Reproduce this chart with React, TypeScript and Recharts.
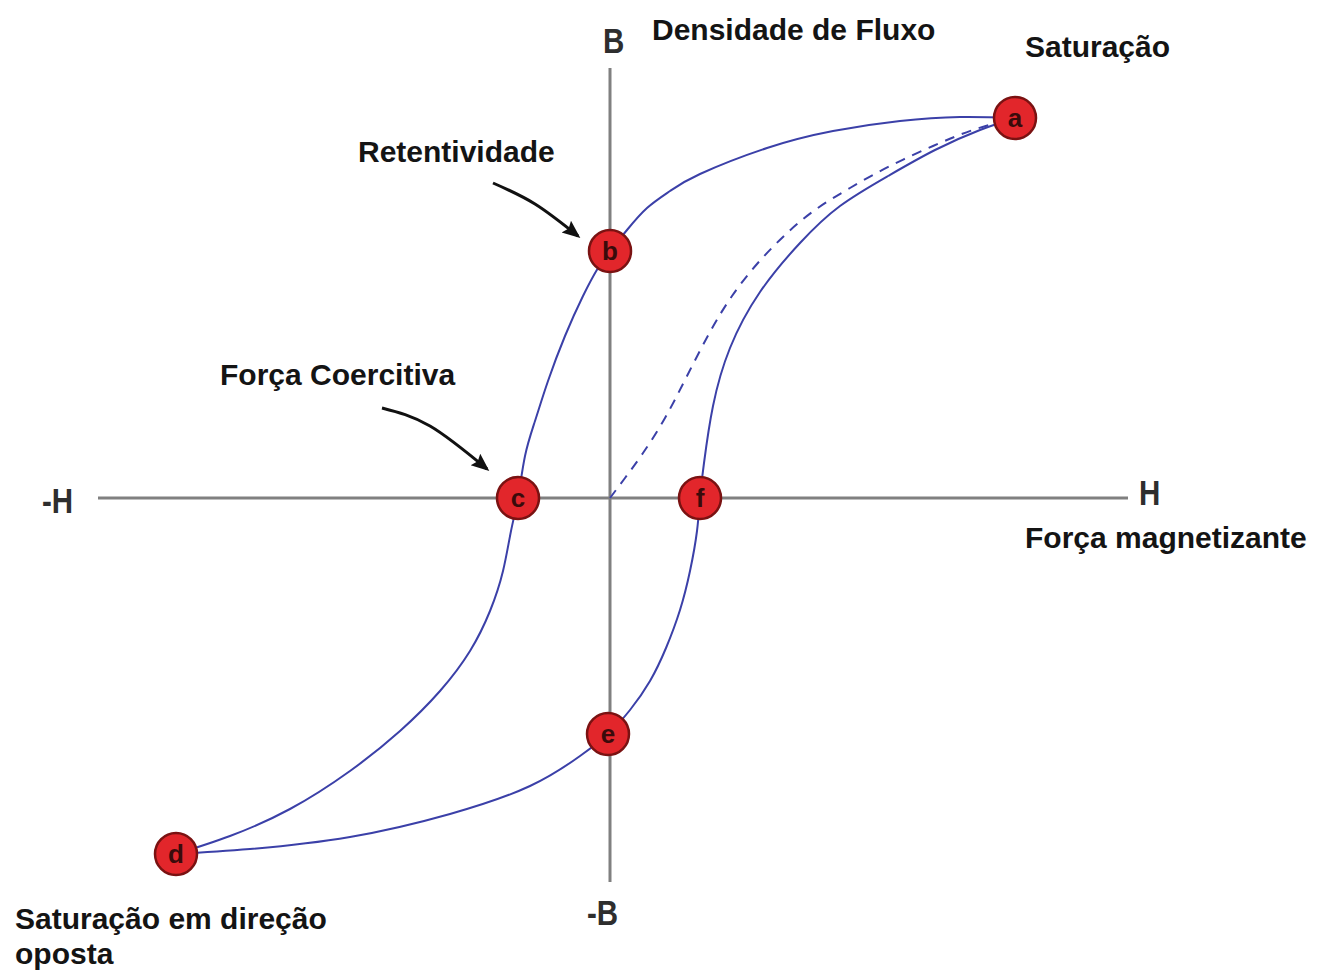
import React from 'react';
import { ComposedChart, Line, Scatter, XAxis, YAxis, ReferenceLine } from 'recharts';

// Hysteresis loop branches (H, B)
const upperBranch = [
  { h: -4.34, b: -3.56 }, { h: -3.8, b: -3.38 }, { h: -3.2, b: -3.11 }, { h: -2.6, b: -2.73 },
  { h: -2.1, b: -2.33 }, { h: -1.7, b: -1.93 }, { h: -1.4, b: -1.53 }, { h: -1.2, b: -1.13 },
  { h: -1.07, b: -0.73 }, { h: -0.99, b: -0.33 }, { h: -0.92, b: 0 }, { h: -0.85, b: 0.42 },
  { h: -0.75, b: 0.77 }, { h: -0.62, b: 1.17 }, { h: -0.45, b: 1.62 }, { h: -0.27, b: 2.02 },
  { h: -0.12, b: 2.3 }, { h: 0, b: 2.47 }, { h: 0.17, b: 2.68 }, { h: 0.37, b: 2.9 },
  { h: 0.6, b: 3.07 }, { h: 0.9, b: 3.24 }, { h: 1.57, b: 3.5 }, { h: 2.23, b: 3.67 },
  { h: 2.9, b: 3.77 }, { h: 3.5, b: 3.81 }, { h: 4.05, b: 3.8 },
];

const lowerBranch = [
  { h: -4.34, b: -3.56 }, { h: -3.6, b: -3.51 }, { h: -2.6, b: -3.39 }, { h: -1.6, b: -3.16 },
  { h: -0.8, b: -2.88 }, { h: -0.3, b: -2.58 }, { h: -0.02, b: -2.36 }, { h: 0.2, b: -2.12 },
  { h: 0.4, b: -1.83 }, { h: 0.56, b: -1.5 }, { h: 0.7, b: -1.12 }, { h: 0.8, b: -0.73 },
  { h: 0.87, b: -0.33 }, { h: 0.9, b: 0 }, { h: 0.94, b: 0.35 }, { h: 1.03, b: 0.92 },
  { h: 1.2, b: 1.5 }, { h: 1.5, b: 2.06 }, { h: 1.9, b: 2.55 }, { h: 2.3, b: 2.92 },
  { h: 2.78, b: 3.22 }, { h: 3.25, b: 3.48 }, { h: 3.7, b: 3.68 }, { h: 4.05, b: 3.8 },
];

const initialCurve = [
  { h: 0, b: 0 }, { h: 0.15, b: 0.2 }, { h: 0.33, b: 0.45 }, { h: 0.55, b: 0.8 },
  { h: 0.77, b: 1.22 }, { h: 1.0, b: 1.66 }, { h: 1.22, b: 2.02 }, { h: 1.47, b: 2.34 },
  { h: 1.75, b: 2.63 }, { h: 2.05, b: 2.88 }, { h: 2.4, b: 3.1 }, { h: 2.8, b: 3.32 },
  { h: 3.23, b: 3.52 }, { h: 3.63, b: 3.68 }, { h: 4.05, b: 3.8 },
];

const arrowRetentividade = [
  { h: -1.17, b: 3.15 }, { h: -0.75, b: 2.94 }, { h: -0.32, b: 2.62 },
];
const arrowCoercitiva = [
  { h: -2.28, b: 0.9 }, { h: -1.8, b: 0.72 }, { h: -1.23, b: 0.29 },
];

const keyPoints = [
  { h: 4.05, b: 3.8, tag: 'a' },
  { h: 0, b: 2.47, tag: 'b' },
  { h: -0.92, b: 0, tag: 'c' },
  { h: -4.34, b: -3.56, tag: 'd' },
  { h: -0.02, b: -2.36, tag: 'e' },
  { h: 0.9, b: 0, tag: 'f' },
];

const textLabels = [
  { h: 0.42, b: 4.58, text: 'Densidade de Fluxo', kind: 'main' },
  { h: 4.15, b: 4.41, text: 'Saturação', kind: 'main' },
  { h: -2.52, b: 3.36, text: 'Retentividade', kind: 'main' },
  { h: -3.9, b: 1.13, text: 'Força Coercitiva', kind: 'main' },
  { h: 4.15, b: -0.5, text: 'Força magnetizante', kind: 'main' },
  { h: -5.95, b: -4.31, text: 'Saturação em direção', kind: 'main' },
  { h: -5.95, b: -4.66, text: 'oposta', kind: 'main' },
  { h: -0.07, b: 4.45, text: 'B', kind: 'axis' },
  { h: -5.68, b: -0.15, text: '-H', kind: 'axis' },
  { h: 5.29, b: -0.07, text: 'H', kind: 'axis' },
  { h: -0.23, b: -4.27, text: '-B', kind: 'axis' },
];

const hAxisExtent = [-5.12, 5.18];
const bAxisExtent = [-3.84, 4.3];

const LOOP = '#3b40a8';
const AXIS = '#808080';

const PointShape = (props: any) => {
  const { cx, cy, payload } = props;
  if (cx == null || cy == null) return null;
  return (
    <g>
      <circle cx={cx} cy={cy} r={21} fill="#e2262b" stroke="#7a1212" strokeWidth={2.5} />
      <text
        x={cx}
        y={cy}
        textAnchor="middle"
        dominantBaseline="central"
        fontFamily="'Liberation Sans', Arial, sans-serif"
        fontWeight={700}
        fontSize={26}
        fill="#3a0b0b"
      >
        {payload.tag}
      </text>
    </g>
  );
};

const LabelShape = (props: any) => {
  const { cx, cy, payload } = props;
  if (cx == null || cy == null) return null;
  const isAxis = payload.kind === 'axis';
  return (
    <text
      x={cx}
      y={cy}
      textAnchor="start"
      fontFamily="'Liberation Sans', Arial, sans-serif"
      fontWeight={700}
      fontSize={isAxis ? 36 : 30}
      fill={isAxis ? '#2e2e2e' : '#141414'}
      transform={isAxis ? `translate(${cx} ${cy}) scale(0.82 1) translate(${-cx} ${-cy})` : undefined}
    >
      {payload.text}
    </text>
  );
};

export default function App() {
  return (
    <div style={{ position: 'absolute', left: 0, top: 0, background: '#ffffff' }}>
      <ComposedChart width={1318} height={972} margin={{ top: 0, right: 0, bottom: 0, left: 0 }}>
        <defs>
          <marker
            id="arrowHead"
            viewBox="0 0 12 10"
            refX="10"
            refY="5"
            markerWidth="7"
            markerHeight="5"
            orient="auto"
          >
            <path d="M0,0 L12,5 L0,10 L2,5 z" fill="#111" />
          </marker>
        </defs>
        <XAxis type="number" dataKey="h" domain={[-6.1, 7.08]} hide allowDataOverflow />
        <YAxis type="number" dataKey="b" domain={[-4.74, 4.98]} hide allowDataOverflow />
        <ReferenceLine
          segment={[{ x: hAxisExtent[0], y: 0 }, { x: hAxisExtent[1], y: 0 }]}
          stroke={AXIS}
          strokeWidth={3}
        />
        <ReferenceLine
          segment={[{ x: 0, y: bAxisExtent[0] }, { x: 0, y: bAxisExtent[1] }]}
          stroke={AXIS}
          strokeWidth={3}
        />
        <Line data={upperBranch} dataKey="b" type="natural" stroke={LOOP} strokeWidth={2} dot={false} activeDot={false} isAnimationActive={false} />
        <Line data={lowerBranch} dataKey="b" type="natural" stroke={LOOP} strokeWidth={2} dot={false} activeDot={false} isAnimationActive={false} />
        <Line data={initialCurve} dataKey="b" type="natural" stroke={LOOP} strokeWidth={2} strokeDasharray="10 8" dot={false} activeDot={false} isAnimationActive={false} />
        <Line data={arrowRetentividade} dataKey="b" type="natural" stroke="#111" strokeWidth={3} markerEnd="url(#arrowHead)" dot={false} activeDot={false} isAnimationActive={false} />
        <Line data={arrowCoercitiva} dataKey="b" type="natural" stroke="#111" strokeWidth={3} markerEnd="url(#arrowHead)" dot={false} activeDot={false} isAnimationActive={false} />
        <Scatter data={keyPoints} dataKey="b" shape={PointShape} isAnimationActive={false} />
        <Scatter data={textLabels} dataKey="b" shape={LabelShape} isAnimationActive={false} />
      </ComposedChart>
    </div>
  );
}
